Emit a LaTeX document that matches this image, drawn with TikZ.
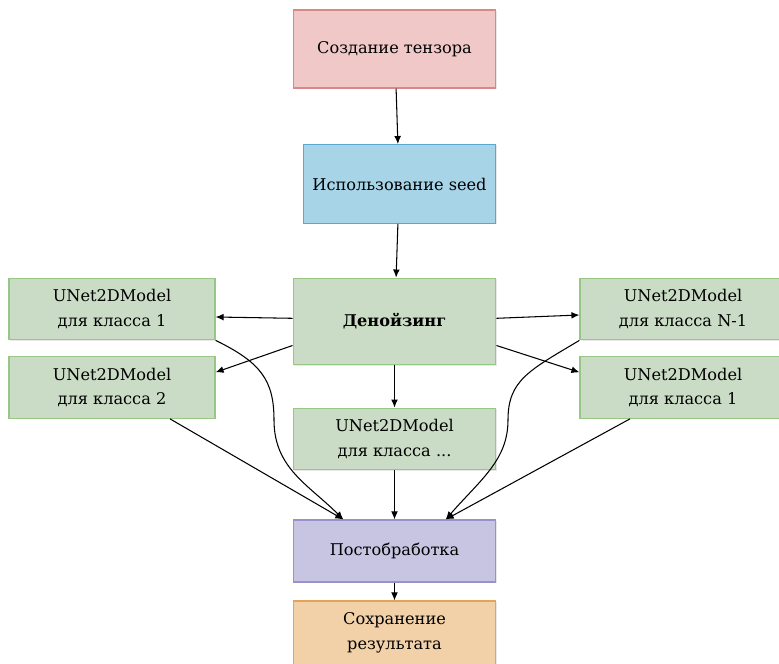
\documentclass[tikz,border=0pt]{standalone}
\usepackage{fontspec}
\setmainfont{DejaVu Serif}
\usetikzlibrary{arrows.meta,shadows}
\definecolor{tensorfill}{HTML}{F0C8C8}
\definecolor{tensordraw}{HTML}{D98888}
\definecolor{seedfill}{HTML}{A8D4E8}
\definecolor{seeddraw}{HTML}{5AA8D0}
\definecolor{modelfill}{HTML}{CADCC5}
\definecolor{modeldraw}{HTML}{96C785}
\definecolor{postfill}{HTML}{C8C5E2}
\definecolor{postdraw}{HTML}{9A90CC}
\definecolor{savefill}{HTML}{F2D1A9}
\definecolor{savedraw}{HTML}{E3A45A}
\tikzset{
  box/.style={rectangle, draw, line width=0.8pt, align=center, inner sep=2pt,
    font=\fontsize{11.5}{17.5}\selectfont,
    drop shadow={opacity=0.18, shadow xshift=0.6pt, shadow yshift=-0.6pt}},
  tensorbox/.style={box, fill=tensorfill, draw=tensordraw, minimum width=5.07cm, minimum height=1.95cm},
  seedbox/.style={box, fill=seedfill, draw=seeddraw, minimum width=4.82cm, minimum height=1.97cm},
  denbox/.style={box, fill=modelfill, draw=modeldraw, minimum width=5.07cm, minimum height=2.17cm},
  modelbox/.style={box, fill=modelfill, draw=modeldraw, minimum width=5.15cm, minimum height=1.54cm},
  postbox/.style={box, fill=postfill, draw=postdraw, minimum width=5.07cm, minimum height=1.55cm},
  savebox/.style={box, fill=savefill, draw=savedraw, minimum width=5.07cm, minimum height=1.6cm},
  link/.style={line width=0.75pt, -{Latex[length=2mm,width=1.7mm]}}
}

\begin{document}
\begin{tikzpicture}[x=0.025cm, y=-0.025cm]
  \useasboundingbox (0,0) rectangle (779,664);

  \node[tensorbox] (tensor) at (394.5,49) {Создание тензора};
  \node[seedbox] (seed) at (399.5,184) {Использование seed};
  \node[denbox] (den) at (394.5,321.5) {\textbf{Денойзинг}};
  \node[modelbox] (l1) at (112,309) {UNet2DModel\\для класса 1};
  \node[modelbox] (l2) at (112,387.5) {UNet2DModel\\для класса 2};
  \node[modelbox] (r1) at (683,309) {UNet2DModel\\для класса N-1};
  \node[modelbox] (r2) at (683,387.5) {UNet2DModel\\для класса 1};
  \node[modelbox, minimum width=5.07cm] (mid) at (394.5,439) {UNet2DModel\\для класса ...};
  \node[postbox] (post) at (394.5,551) {Постобработка};
  \node[savebox] (save) at (394.5,633) {Сохранение\\результата};

  \coordinate (inL) at ([xshift=-1.28cm]post.north);
  \coordinate (inR) at ([xshift=1.28cm]post.north);

  \draw[link] ([xshift=0.04cm]tensor.south) -- ([xshift=-0.04cm]seed.north);
  \draw[link] ([xshift=-0.04cm]seed.south) -- ([xshift=0.04cm]den.north);
  \draw[link] ([yshift=0.08cm]den.west) -- ([yshift=-0.2cm]l1.east);
  \draw[link] ([yshift=-0.6cm]den.west) -- ([yshift=0.38cm]l2.east);
  \draw[link] ([yshift=0.08cm]den.east) -- ([yshift=-0.15cm]r1.west);
  \draw[link] ([yshift=-0.6cm]den.east) -- ([yshift=0.38cm]r2.west);
  \draw[link] (den.south) -- (mid.north);
  \draw[link] (mid.south) -- (post.north);
  \draw[link] (post.south) -- (save.north);

  \draw[link] (l2.south) ++(58,0) coordinate (l2out) (l2out) -- (inL);
  \draw[link] (r2.south) ++(-53,0) coordinate (r2out) (r2out) -- (inR);
  \draw[link] (l1.south east) .. controls +(45,22) and +(0,-40) .. (274,420)
    .. controls +(0,48) and +(-35,-35) .. (inL);
  \draw[link] (r1.south west) .. controls +(-50,30) and +(0,-40) .. (508,420)
    .. controls +(0,40) and +(35,-40) .. (inR);
\end{tikzpicture}
\end{document}
